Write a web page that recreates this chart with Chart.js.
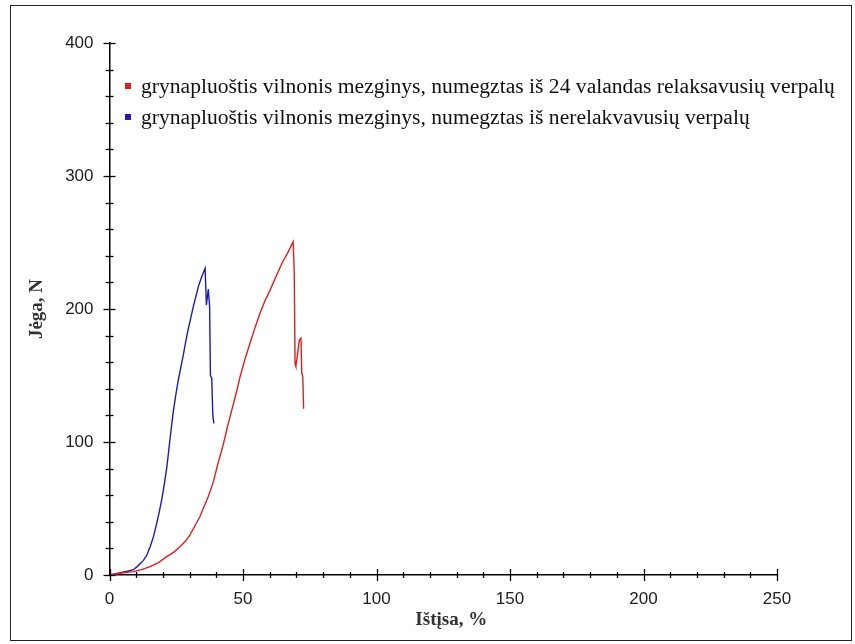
<!DOCTYPE html>
<html>
<head>
<meta charset="utf-8">
<script src="https://cdn.jsdelivr.net/npm/chart.js@4.4.1/dist/chart.umd.min.js"></script>
<style>
html,body{margin:0;padding:0;background:#fff;}
#wrap{width:855px;height:644px;position:relative;}
</style>
</head>
<body>
<div id="wrap"><canvas id="c" width="855" height="644"></canvas></div>
<script>
// ---- data ----
const seriesLabels = [
  'grynapluoštis vilnonis mezginys, numegztas iš 24 valandas relaksavusių verpalų',
  'grynapluoštis vilnonis mezginys, numegztas iš nerelakvavusių verpalų'
];
const xTitle = 'Ištįsa, %';
const yTitle = 'Jėga, N';

const redStrain = [0,4.5,8.9,12,15.2,18.5,21.4,24,26.4,28.5,30.1,32,33.9,35.1,37,38.9,40.5,42.6,44,45.8,47.5,48.9,50.7,52.6,54.5,56.4,58.2,60.1,62.3,64.5,66.7,68.8,69.2,69.5,69.8,70.3,71.1,71.7,72.0,72.4,72.7];
const redForce  = [0,1.5,2.5,4,6.3,9.5,13.8,17,21.3,25.5,30,37,44,50,59,70,83,98,110,124,137,149,162,174,186,197,206,214,224,234,242,250.6,227,159,157,164,176.7,178,152,149,125];

const blueStrain = [0,2,4.5,7,8.9,10.5,12.7,14,15.2,16.5,17.7,18.7,19.6,20.5,21.4,22.1,22.7,23.3,23.9,24.8,25.8,26.7,27.6,28.5,29.5,30.4,31.4,32.3,33.3,34.5,35.8,36.3,37.0,37.5,37.8,38.3,38.7,39.1];
const blueForce  = [0,0.8,2,3,4,6.5,11,15,21,29,39,48,57,68,80,92,103,113,123,135,147,156,165,175,185,193,202,209,217,224,230.6,203,215,202,150,148,120,114];

const xTickValues = [0,50,100,150,200,250];
const yTickValues = [0,100,200,300,400];

const seriesColors = ['#e01e1e','#1c1cb4'];

function pts(xs, ys){ return xs.map((x,i)=>({x:x, y:ys[i]})); }

const AREA = {left:109.5, right:777, top:43, bottom:575};

const decor = {
  id:'decor',
  beforeDraw(chart){
    const ctx = chart.ctx;
    ctx.save();
    ctx.fillStyle = '#fff';
    ctx.fillRect(0,0,chart.width,chart.height);
    ctx.strokeStyle = '#222';
    ctx.lineWidth = 1;
    ctx.strokeRect(10.5,5.5,841,635);
    ctx.restore();
  },
  afterDraw(chart){
    const ctx = chart.ctx;
    const xs = chart.scales.x, ys = chart.scales.y;
    const a = chart.chartArea;
    ctx.save();
    ctx.strokeStyle = '#000';
    ctx.lineWidth = 1.3;
    for (let v = 0; v <= 250; v += 10) {
      const px = Math.round(xs.getPixelForValue(v)) + 0.5;
      const major = v % 50 === 0;
      ctx.beginPath();
      ctx.moveTo(px, a.bottom - (major ? 6 : 3));
      ctx.lineTo(px, a.bottom + (major ? 6 : 3));
      ctx.stroke();
    }
    for (let v = 0; v <= 400; v += 20) {
      const py = Math.round(ys.getPixelForValue(v)) + 0.5;
      const major = v % 100 === 0;
      ctx.beginPath();
      ctx.moveTo(a.left - (major ? 6 : 4), py);
      ctx.lineTo(a.left + (major ? 6 : 4), py);
      ctx.stroke();
    }
    // axis titles
    ctx.fillStyle = '#333';
    ctx.font = 'bold 19px "Liberation Serif", "Times New Roman", serif';
    ctx.textAlign = 'center';
    ctx.textBaseline = 'middle';
    ctx.fillText(xTitle, (a.left + a.right)/2 + 8, 620);
    ctx.save();
    ctx.translate(37, (a.top + a.bottom)/2);
    ctx.rotate(-Math.PI/2);
    ctx.fillText(yTitle, 0, 0);
    ctx.restore();
    // legend
    ctx.font = '21.6px "Liberation Serif", "Times New Roman", serif';
    ctx.textAlign = 'left';
    ctx.textBaseline = 'alphabetic';
    chart.data.datasets.forEach((ds, i) => {
      const cy = 86 + i*31;
      ctx.fillStyle = ds.borderColor;
      ctx.fillRect(125, cy-3, 6, 6);
      ctx.fillStyle = '#111';
      ctx.fillText(ds.label, 141, cy + 7);
    });
    ctx.restore();
  }
};

new Chart(document.getElementById('c'), {
  type: 'line',
  data: {
    datasets: [
      {label: seriesLabels[0], data: pts(redStrain, redForce), borderColor: seriesColors[0], borderWidth: 1.4, pointRadius: 0, tension: 0, fill: false},
      {label: seriesLabels[1], data: pts(blueStrain, blueForce), borderColor: seriesColors[1], borderWidth: 1.4, pointRadius: 0, tension: 0, fill: false}
    ]
  },
  options: {
    responsive: false,
    animation: false,
    devicePixelRatio: 1,
    layout: {padding: {left: 0, top: AREA.top, right: 855 - AREA.right, bottom: 0}},
    plugins: {legend: {display: false}, tooltip: {enabled: false}},
    scales: {
      x: {
        type: 'linear', min: 0, max: 250,
        afterFit(s){ s.height = 644 - AREA.bottom; },
        afterBuildTicks(s){ s.ticks = xTickValues.map(v => ({value: v})); },
        grid: {display: false, drawTicks: false},
        border: {display: true, color: '#000', width: 1.5},
        ticks: {padding: 14, color: '#222', font: {family: '"Liberation Sans", Arial, sans-serif', size: 17}}
      },
      y: {
        type: 'linear', min: 0, max: 400,
        afterFit(s){ s.width = AREA.left; },
        afterBuildTicks(s){ s.ticks = yTickValues.map(v => ({value: v})); },
        grid: {display: false, drawTicks: false},
        border: {display: true, color: '#000', width: 1.5},
        ticks: {padding: 16, color: '#222', font: {family: '"Liberation Sans", Arial, sans-serif', size: 17}}
      }
    }
  },
  plugins: [decor]
});
</script>
</body>
</html>
